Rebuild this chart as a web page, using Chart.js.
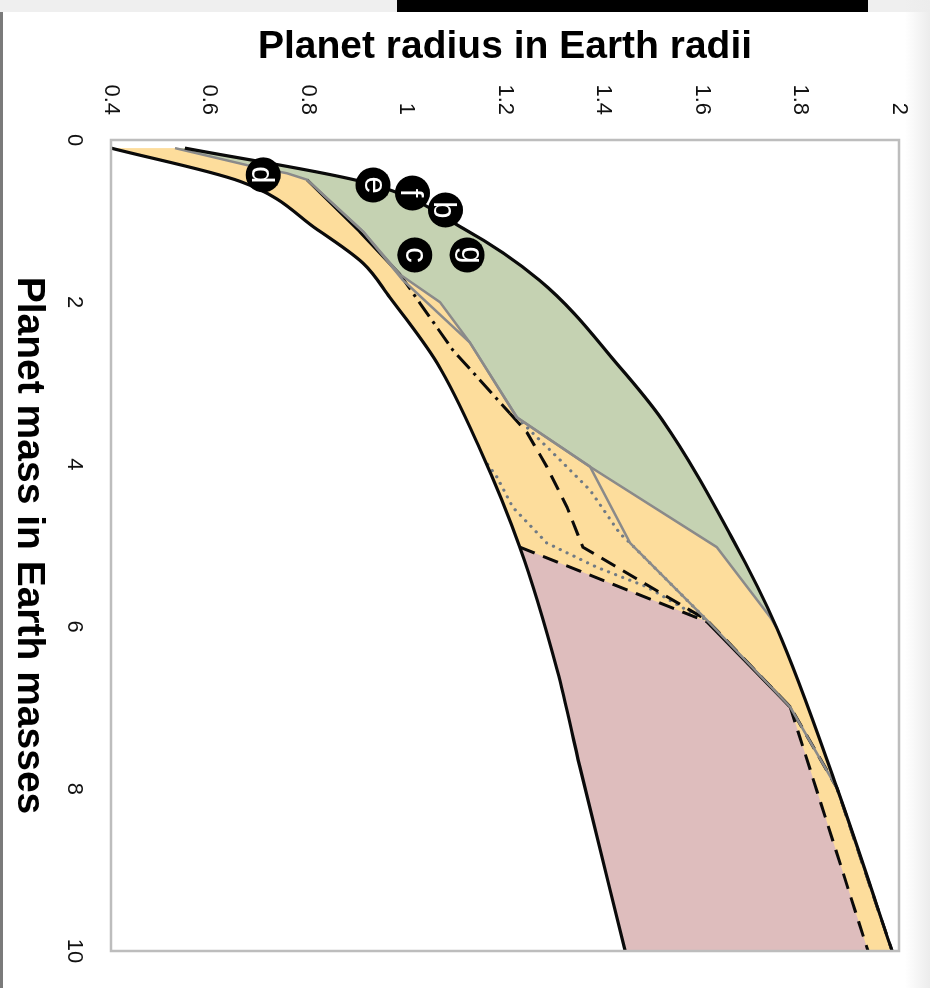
<!DOCTYPE html>
<html>
<head>
<meta charset="utf-8">
<script src="https://cdn.jsdelivr.net/npm/chart.js@4.4.1/dist/chart.umd.min.js"></script>
<style>
  html, body { margin: 0; padding: 0; background: #fff; overflow: hidden; width: 930px; height: 988px; }
  #topStrip { position: absolute; left: 0; top: 0; width: 930px; height: 12px; background: #efefef; }
  #blackBar { position: absolute; left: 397px; top: 0; width: 471px; height: 12px; background: #000; }
  #leftEdge { position: absolute; left: 0; top: 12px; width: 3px; height: 976px; background: #7a7a7a; }
  #rightEdge { position: absolute; left: 905px; top: 0; width: 25px; height: 988px;
               background: linear-gradient(to right, rgba(240,240,240,0), #ececec); }
  /* chart is laid out landscape and turned a quarter turn clockwise */
  #stage { position: absolute; left: 0; top: 0; width: 988px; height: 930px;
           transform-origin: 0 0; transform: translateX(930px) rotate(90deg); }
</style>
</head>
<body>
<div id="topStrip"></div>
<div id="blackBar"></div>
<div id="leftEdge"></div>
<div id="rightEdge"></div>
<div id="stage"><canvas id="chart" width="988" height="930"></canvas></div>
<script>
// Axis ticks
const massTicks = [0, 2, 4, 6, 8, 10];
const radiusTicks = [0.4, 0.6, 0.8, 1, 1.2, 1.4, 1.6, 1.8, 2];
const radiusTickLabels = ['0.4', '0.6', '0.8', '1', '1.2', '1.4', '1.6', '1.8', '2'];

// Smallest-radius envelope (solid black)
const massLower = [0.1, 0.51, 1.11, 1.52, 1.94, 2.75, 3.81, 5.02, 6.54, 7.73, 10];
const radiusLower = [0.40, 0.662, 0.82, 0.912, 0.966, 1.062, 1.149, 1.23, 1.306, 1.352, 1.444];

// Largest-radius envelope (solid black)
const massUpper = [0.1, 0.53, 1.09, 1.73, 2.8, 3.45, 4.93, 6.02, 7.99, 10];
const radiusUpper = [0.55, 0.92, 1.115, 1.27, 1.433, 1.519, 1.663, 1.752, 1.874, 1.986];

// Grey solid curve bounding the green band
const massGreyA = [0.1, 0.31, 0.41, 0.49, 1.13, 1.66, 2.0, 2.5, 3.42, 4.03, 5.02, 5.88, 6.02];
const radiusGreyA = [0.53, 0.676, 0.757, 0.798, 0.912, 0.987, 1.068, 1.129, 1.224, 1.373, 1.63, 1.738, 1.752];

// Second grey solid curve
const massGreyB = [0.49, 1.13, 1.73, 2.5, 3.42, 4.03, 4.97, 5.92, 6.99, 7.99, 10];
const radiusGreyB = [0.798, 0.912, 0.993, 1.129, 1.224, 1.373, 1.454, 1.61, 1.779, 1.874, 1.986];

// Black dash-dot / dashed curve
const massDashDot = [0.49, 1.13, 1.66, 2.01, 2.59, 2.96, 3.37, 3.61, 4.03, 4.53, 5.02, 5.92, 6.99, 7.99, 10];
const radiusDashDot = [0.798, 0.905, 0.987, 1.027, 1.094, 1.149, 1.21, 1.245, 1.285, 1.326, 1.358, 1.61, 1.779, 1.874, 1.986];

// Black dashed curve bounding the pink band
const massPinkEdge = [5.02, 5.94, 6.99, 10];
const radiusPinkEdge = [1.23, 1.61, 1.779, 1.937];

// Grey dotted curves
const massDotA = [3.42, 3.91, 4.32, 4.85, 4.97, 5.92];
const radiusDotA = [1.224, 1.306, 1.373, 1.433, 1.454, 1.61];
const massDotB = [4.0, 4.16, 4.53, 4.97, 5.27, 5.51, 5.80, 5.92];
const radiusDotB = [1.165, 1.184, 1.216, 1.285, 1.387, 1.488, 1.57, 1.61];

// TRAPPIST-1 planets
const planetNames = ['b', 'c', 'd', 'e', 'f', 'g'];
const planetMass = [0.863, 1.418, 0.43, 0.555, 0.654, 1.418];
const planetRadius = [1.079, 1.017, 0.709, 0.932, 1.012, 1.123];

const pts = (ms, rs) => ms.map((m, i) => ({ x: m, y: rs[i] }));

const FONT = "'Liberation Sans', Arial, Helvetica, sans-serif";
Chart.defaults.font.family = FONT;

const BLACK = '#0a0a0a';
const GREY = '#8a8a8a';
const DOT = '#707a84';
const GREEN = 'rgb(197,210,178)';
const ORANGE = 'rgb(253,221,156)';
const PINK = 'rgb(222,189,189)';

const lineStyle = (color, width, smooth) => ({
  showLine: true, borderColor: color, borderWidth: width, pointRadius: 0,
  pointHoverRadius: 0, fill: false, tension: 0, borderJoinStyle: 'round',
  cubicInterpolationMode: smooth ? 'monotone' : 'default'
});

const fillStyle = (color, target, smooth) => ({
  showLine: true, borderColor: 'rgba(0,0,0,0)', borderWidth: 0, pointRadius: 0,
  pointHoverRadius: 0, backgroundColor: color, fill: target, tension: 0,
  cubicInterpolationMode: smooth ? 'monotone' : 'default'
});

// frame around the plotting area
const framePlugin = {
  id: 'plotFrame',
  afterDatasetsDraw(chart) {
    const { ctx, chartArea: a } = chart;
    ctx.save();
    ctx.strokeStyle = '#bdbdbd';
    ctx.lineWidth = 2.5;
    ctx.strokeRect(a.left, a.top, a.right - a.left, a.bottom - a.top);
    ctx.restore();
  }
};

// planet letters inside the black discs
const letterPlugin = {
  id: 'planetLetters',
  afterDatasetsDraw(chart) {
    const meta = chart.getDatasetMeta(0);
    const ctx = chart.ctx;
    ctx.save();
    ctx.fillStyle = '#fff';
    ctx.font = '31px ' + FONT;
    ctx.textAlign = 'center';
    ctx.textBaseline = 'alphabetic';
    meta.data.forEach((pt, i) => {
      const s = planetNames[i];
      const m = ctx.measureText(s);
      const h = m.actualBoundingBoxAscent - m.actualBoundingBoxDescent;
      ctx.fillText(s, pt.x, pt.y + h / 2);
    });
    ctx.restore();
  }
};

new Chart(document.getElementById('chart'), {
  type: 'scatter',
  data: {
    datasets: [
      { label: 'planets', data: pts(planetMass, planetRadius), showLine: false,
        pointRadius: 17.5, pointHoverRadius: 17.5, pointBackgroundColor: '#000', pointBorderWidth: 0 },
      Object.assign({ label: 'lower', data: pts(massLower, radiusLower) }, lineStyle(BLACK, 3.2, true)),
      Object.assign({ label: 'upper', data: pts(massUpper, radiusUpper) }, lineStyle(BLACK, 3.2, true)),
      Object.assign({ label: 'greyA', data: pts(massGreyA, radiusGreyA) }, lineStyle(GREY, 2.5)),
      Object.assign({ label: 'greyB', data: pts(massGreyB, radiusGreyB) }, lineStyle(GREY, 2.5)),
      Object.assign({ label: 'dashDot', data: pts(massDashDot, radiusDashDot),
        segment: { borderDash: c => c.p0DataIndex < 2 ? [] : (c.p0DataIndex < 6 ? [18, 6, 3, 6] : [16, 9]) } },
        lineStyle(BLACK, 3)),
      Object.assign({ label: 'pinkEdge', data: pts(massPinkEdge, radiusPinkEdge),
        segment: { borderDash: c => c.p0DataIndex === 1 ? [] : [16, 9] } }, lineStyle(BLACK, 3)),
      Object.assign({ label: 'dotA', data: pts(massDotA, radiusDotA), borderDash: [0.1, 7.5], borderCapStyle: 'round' },
        lineStyle(DOT, 3.2)),
      Object.assign({ label: 'dotB', data: pts(massDotB, radiusDotB), borderDash: [0.1, 7.5], borderCapStyle: 'round' },
        lineStyle(DOT, 3.2)),
      Object.assign({ label: 'pinkFill', data: pts(massPinkEdge, radiusPinkEdge) }, fillStyle(PINK, 1)),
      Object.assign({ label: 'greenFill', data: pts(massGreyA, radiusGreyA) }, fillStyle(GREEN, 2)),
      Object.assign({ label: 'orangeFill', data: pts(massUpper, radiusUpper) }, fillStyle(ORANGE, 1, true))
    ]
  },
  options: {
    responsive: false,
    animation: false,
    devicePixelRatio: 1,
    layout: { padding: { top: 31, right: 37, bottom: 0, left: 0 } },
    plugins: {
      legend: { display: false },
      tooltip: { enabled: false },
      filler: { drawTime: 'beforeDatasetsDraw' }
    },
    scales: {
      x: {
        type: 'linear', min: 0, max: 10, position: 'bottom',
        afterBuildTicks: s => { s.ticks = massTicks.map(v => ({ value: v })); },
        ticks: { color: '#111', font: { size: 22 }, padding: 24, maxRotation: 0, minRotation: 0,
                 callback: v => String(v) },
        grid: { display: false, drawTicks: false },
        border: { display: false },
        title: { display: true, text: 'Planet mass in Earth masses', color: '#000',
                 font: { size: 39, weight: 'bold' }, padding: { top: 0, bottom: 5 } },
        afterFit: s => { s.height = 111; s.paddingLeft = 0; s.paddingRight = 0; }
      },
      y: {
        type: 'linear', min: 0.4, max: 2, position: 'left',
        afterBuildTicks: s => { s.ticks = radiusTicks.map(v => ({ value: v })); },
        ticks: { color: '#111', font: { size: 22 }, padding: 25,
                 callback: (v, i) => radiusTickLabels[i] },
        grid: { display: false, drawTicks: false },
        border: { display: false },
        title: { display: true, text: 'Planet radius in Earth radii', color: '#000',
                 font: { size: 39, weight: 'bold' }, padding: { top: 24, bottom: 0 } },
        afterFit: s => { s.width = 140; s.paddingTop = 0; s.paddingBottom = 0; }
      }
    }
  },
  plugins: [framePlugin, letterPlugin]
});
</script>
</body>
</html>
